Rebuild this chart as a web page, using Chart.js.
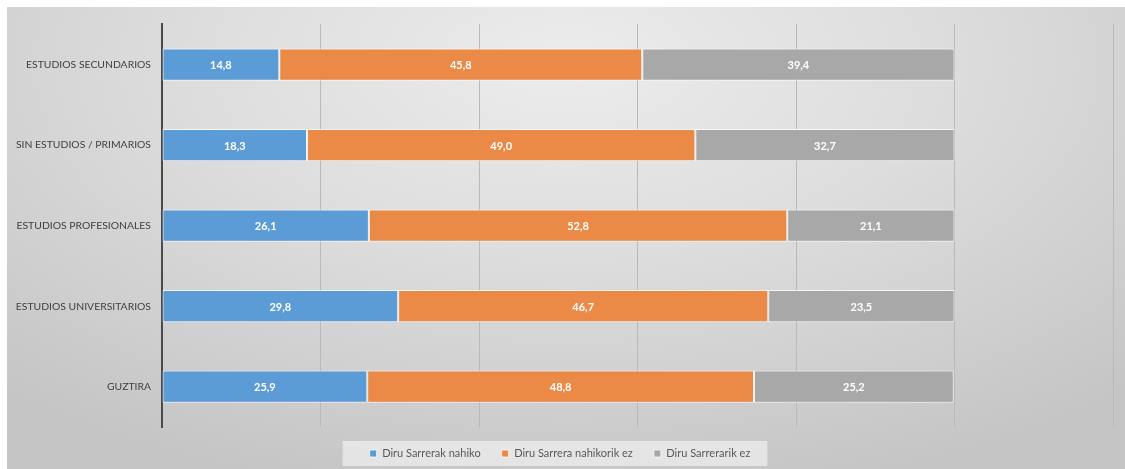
<!DOCTYPE html>
<html>
<head>
<meta charset="utf-8">
<script src="https://cdn.jsdelivr.net/npm/chart.js@4.4.1/dist/chart.umd.min.js"></script>
<style>
  html, body { margin: 0; padding: 0; background: #ffffff; width: 1125px; height: 469px; overflow: hidden; }
  #wrap {
    position: absolute; left: 7px; top: 7px; width: 1118px; height: 462px;
    background: radial-gradient(ellipse 75% 95% at 50% 12%, #ececec 0%, #dddddd 45%, #c5c5c5 100%);
  }
</style>
</head>
<body>
<div id="wrap"><canvas id="c"></canvas></div>
<script>
const categories = ['ESTUDIOS SECUNDARIOS', 'SIN ESTUDIOS / PRIMARIOS', 'ESTUDIOS PROFESIONALES', 'ESTUDIOS UNIVERSITARIOS', 'GUZTIRA'];
const seriesNames = ['Diru Sarrerak nahiko', 'Diru Sarrera nahikorik ez', 'Diru Sarrerarik ez'];
const nahiko = [14.8, 18.3, 26.1, 29.8, 25.9];
const nahikorikEz = [45.8, 49.0, 52.8, 46.7, 48.8];
const sarrerarikEz = [39.4, 32.7, 21.1, 23.5, 25.2];
const xTicks = [0, 20, 40, 60, 80, 100, 120];

const colors = ['#5c9cd6', '#eb8a47', '#a8a8a8'];
const FONT = 'Lato, "Open Sans", sans-serif';

const dataLabels = {
  id: 'dataLabels',
  afterDatasetsDraw(chart) {
    const ctx = chart.ctx;
    ctx.save();
    ctx.font = 'bold 11px ' + FONT;
    ctx.fillStyle = '#ffffff';
    ctx.textAlign = 'center';
    ctx.textBaseline = 'middle';
    chart.data.datasets.forEach((ds, di) => {
      const meta = chart.getDatasetMeta(di);
      meta.data.forEach((el, i) => {
        const v = ds.data[i];
        const txt = v.toFixed(1).replace('.', ',');
        ctx.fillText(txt, (el.x + el.base) / 2, el.y + 1);
      });
    });
    ctx.restore();
  }
};

const legendBg = {
  id: 'legendBg',
  beforeDraw(chart) {
    const lg = chart.legend;
    if (!lg || !lg.legendHitBoxes || !lg.legendHitBoxes.length) return;
    const hb = lg.legendHitBoxes;
    let l = Infinity, r = -Infinity, t = Infinity, b = -Infinity;
    hb.forEach(h => { l = Math.min(l, h.left); r = Math.max(r, h.left + h.width); t = Math.min(t, h.top); b = Math.max(b, h.top + h.height); });
    const ctx = chart.ctx;
    ctx.save();
    ctx.fillStyle = 'rgba(238,238,238,0.75)';
    ctx.fillRect(l - 27, t - 7, (r - l) + 44, (b - t) + 14);
    ctx.restore();
  }
};

new Chart(document.getElementById('c'), {
  type: 'bar',
  data: {
    labels: categories,
    datasets: [
      { label: seriesNames[0], data: nahiko, backgroundColor: colors[0] },
      { label: seriesNames[1], data: nahikorikEz, backgroundColor: colors[1] },
      { label: seriesNames[2], data: sarrerarikEz, backgroundColor: colors[2] }
    ].map(d => Object.assign(d, {
      borderColor: 'rgba(255,255,255,0.75)', borderWidth: 1, borderSkipped: false,
      barPercentage: 0.4, categoryPercentage: 1
    }))
  },
  options: {
    indexAxis: 'y',
    responsive: true,
    maintainAspectRatio: false,
    animation: false,
    layout: { padding: { left: 0, right: 12, top: 15, bottom: 0 } },
    scales: {
      x: {
        stacked: true, min: xTicks[0], max: xTicks[xTicks.length - 1],
        afterBuildTicks: s => { s.ticks = xTicks.map(v => ({ value: v })); },
        ticks: { display: false },
        grid: { color: '#b9b9b9', lineWidth: 1, drawTicks: false },
        border: { display: false },
        afterFit: s => { s.height = 0; }
      },
      y: {
        stacked: true,
        grid: { display: false, drawTicks: false },
        border: { display: true, color: '#4a4a4a', width: 2 },
        ticks: { color: '#404040', font: { family: FONT, size: 10.4 }, padding: 11 },
        afterFit: s => { s.width = 155; }
      }
    },
    plugins: {
      legend: {
        position: 'bottom',
        labels: {
          color: '#595959', font: { family: FONT, size: 11 },
          boxWidth: 7, boxHeight: 7, padding: 21
        }
      },
      tooltip: { enabled: false }
    }
  },
  plugins: [dataLabels, legendBg]
});
</script>
</body>
</html>
